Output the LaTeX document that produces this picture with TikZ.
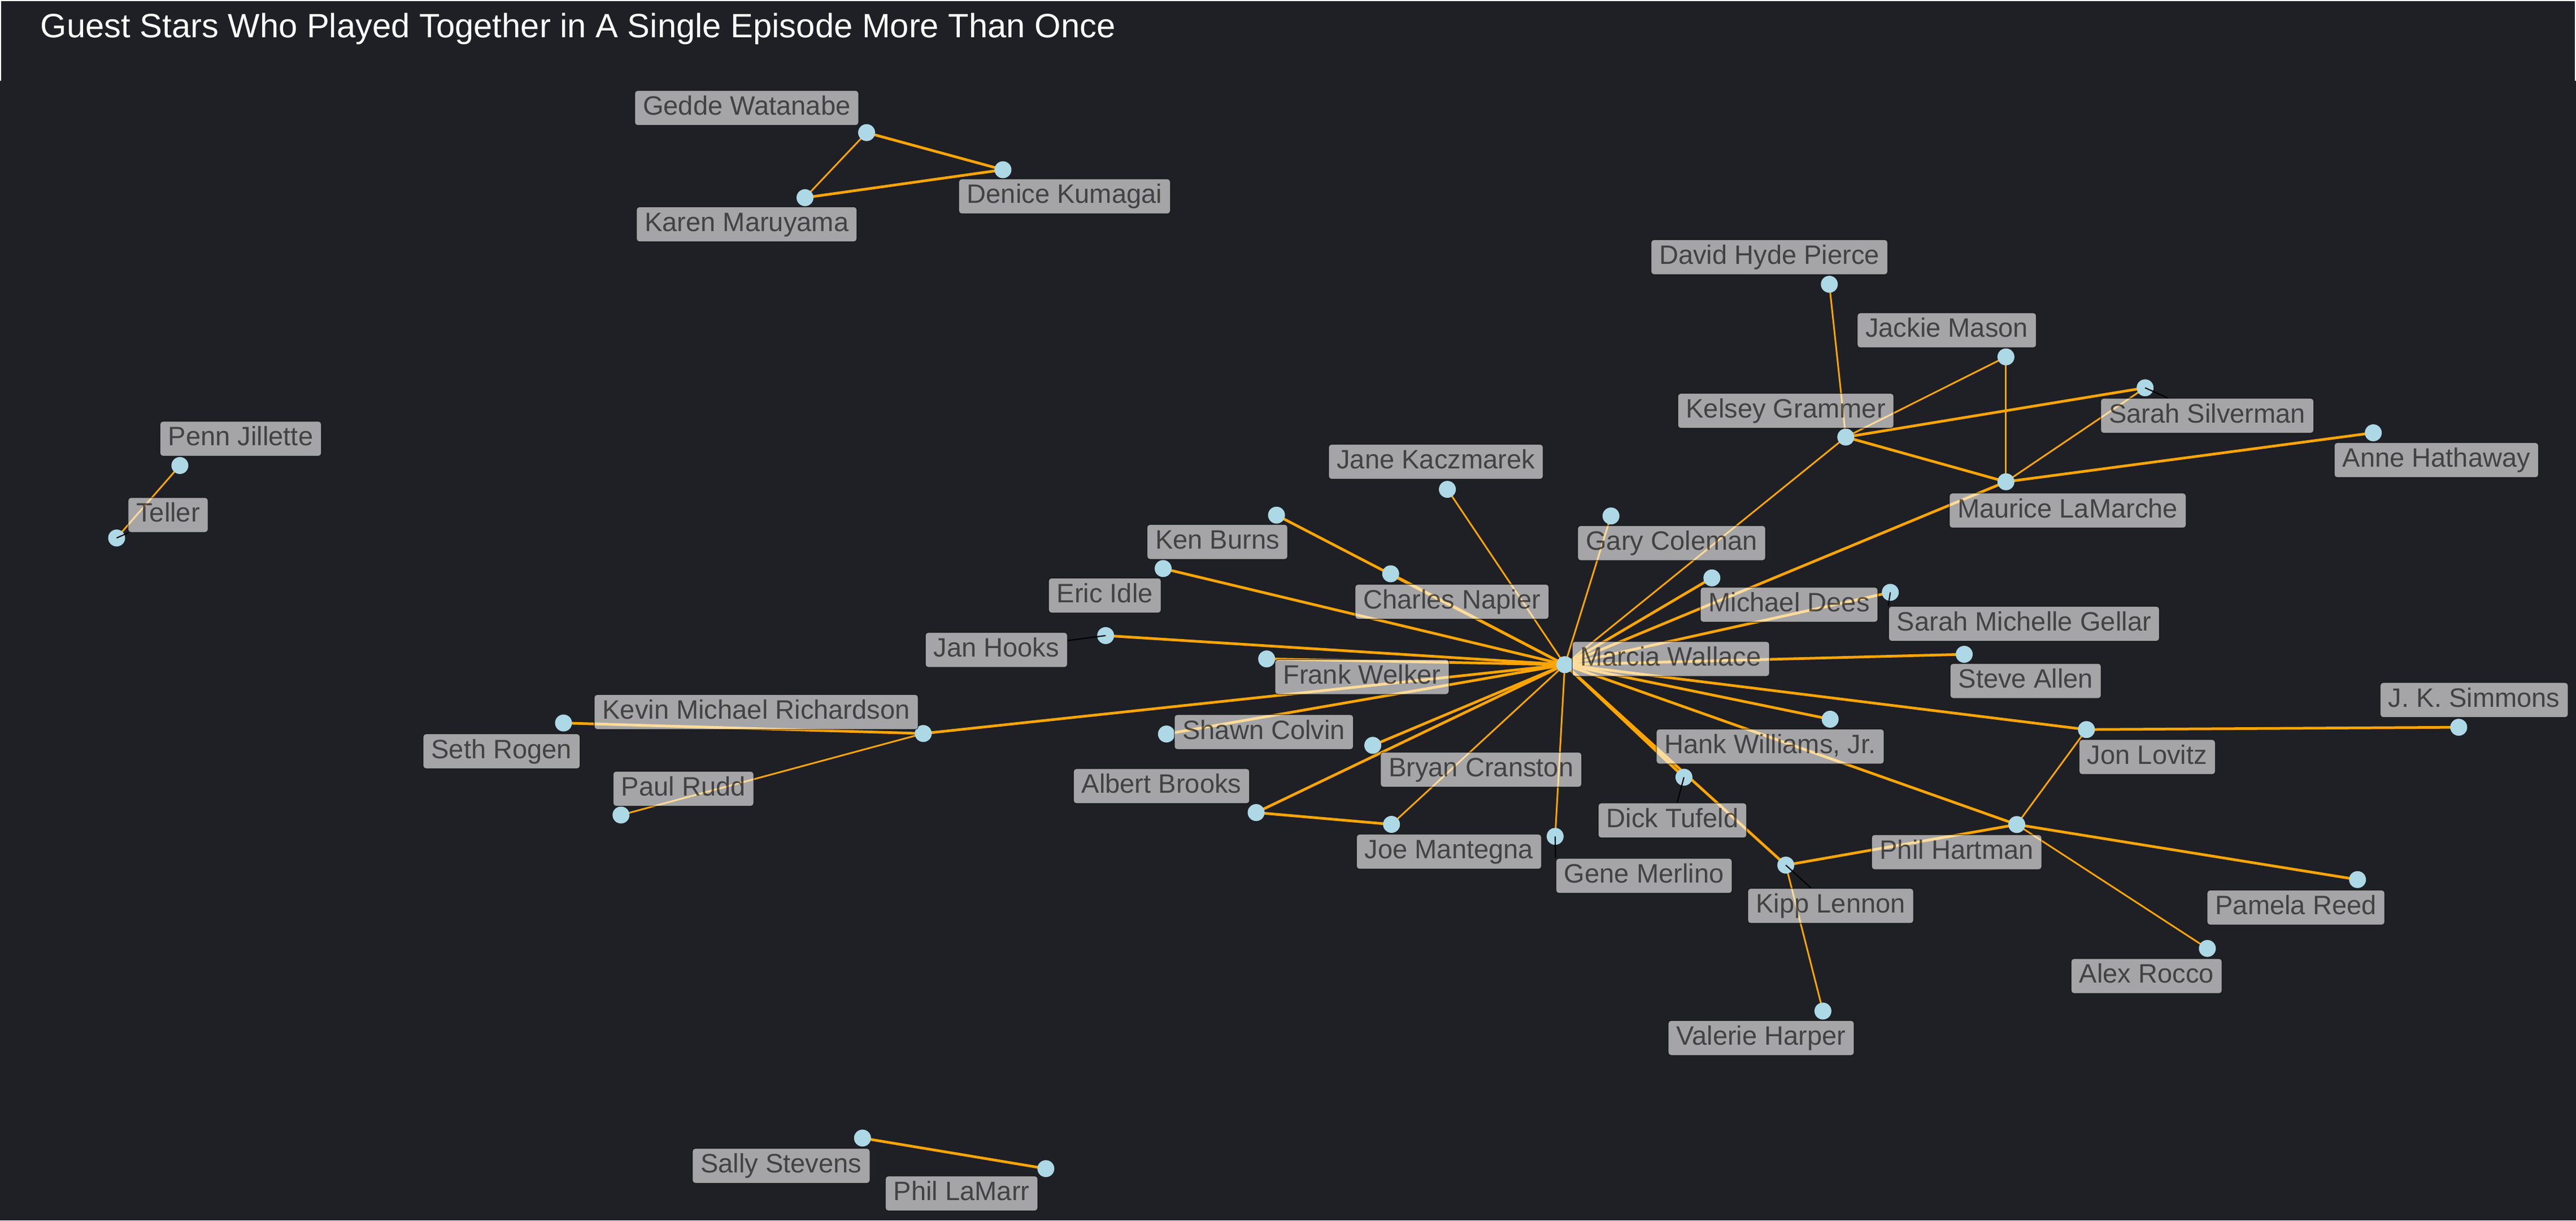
\documentclass[tikz,border=0pt]{standalone}
\usepackage{fontspec}
\setmainfont{Liberation Sans}
\definecolor{panel}{RGB}{30,32,37}
\definecolor{star}{RGB}{173,216,230}
\definecolor{link}{RGB}{255,165,0}
\begin{document}
\begin{tikzpicture}[x=0.0290816cm, y=-0.0290816cm,
    guest/.style={circle, fill=star, inner sep=0pt, minimum size=0.3cm},
    tag/.style={draw=black, fill=white, opacity=0.6, text=black,
      rounded corners=0.05cm, inner xsep=0.145cm, inner ysep=0.08cm,
      text height=0.353cm, text depth=0.104cm,
      font=\fontsize{13.4pt}{16pt}\selectfont},
    cast/.style={draw=link, line width=1.35pt},
    cameo/.style={draw=link, line width=0.85pt},
    lead/.style={draw=black, line width=0.6pt}]
\fill[panel] (0,0) rectangle (1568,742.74);
\useasboundingbox (0,0) rectangle (1568,742.74);
\draw[white, line width=0.02cm] (0.35,49.2) -- (0.35,0.35) -- (1567.65,0.35) -- (1567.65,49.2);
\node[anchor=base west, inner sep=0pt, text=white,
  font=\fontsize{17pt}{20pt}\selectfont] (title) at (24.4,23)
  {Guest Stars Who Played Together in A Single Episode More Than Once};

% where each guest sits
\foreach \n/\x/\y in {gedde/527.5/80.7, denice/610.5/103.3, karen/490/120.3,
    penn/109.5/283.3, teller/71/327.4, david/1113.5/173, jackie/1221/217.2,
    kelsey/1123.5/266, silverman/1305.7/236, anne/1444.6/263.4,
    maurice/1221/293.2, jane/881/297.8, gary/980.6/314, kenb/777/313.5,
    napier/846.5/349.2, eric/708/346, dees/1042/351.7, gellar/1150.6/360.5,
    janh/673/386.8, marcia/952.5/404.5, welker/771/401, steve/1195.6/398.2,
    kevin/562/446.4, seth/343/440, shawn/710/446.7, bryan/835.6/453.6,
    hank/1114/437.7, simmons/1496.6/442.6, lovitz/1270/444, paul/378/496,
    albert/764.6/494.5, tufeld/1025/473, joe/847/501.7, gene/946.6/509,
    hartman/1227.6/501.8, kipp/1087/526.5, pamela/1435/535.3,
    rocco/1343.6/577.2, valerie/1109.6/615.3, sally/525/692.6,
    lamarr/636.6/711.2}
  \coordinate (\n) at (\x,\y);

% shared episodes
\foreach \a/\b in {gedde/denice, karen/denice, sally/lamarr, kevin/seth,
    marcia/eric, marcia/janh, marcia/welker, marcia/kevin, marcia/shawn,
    marcia/bryan, marcia/albert, albert/joe, marcia/dees, marcia/maurice,
    marcia/gellar, marcia/steve, marcia/hank, marcia/lovitz, marcia/hartman,
    marcia/kipp, marcia/tufeld, kipp/hartman, hartman/pamela, lovitz/simmons,
    kelsey/silverman, kelsey/maurice, maurice/anne, marcia/kenb, marcia/napier}
  \draw[cast] (\a) -- (\b);
\foreach \a/\b in {gedde/karen, penn/teller, kevin/paul, marcia/jane,
    marcia/gary, marcia/joe, marcia/gene, marcia/kelsey, kipp/valerie,
    hartman/lovitz, hartman/rocco, kelsey/david, kelsey/jackie,
    jackie/maurice, maurice/silverman}
  \draw[cameo] (\a) -- (\b);

\foreach \n in {gedde, denice, karen, penn, teller, david, jackie, kelsey,
    silverman, anne, maurice, jane, gary, kenb, napier, eric, dees, gellar,
    janh, marcia, welker, steve, kevin, seth, shawn, bryan, hank, simmons,
    lovitz, paul, albert, tufeld, joe, gene, hartman, kipp, pamela, rocco,
    valerie, sally, lamarr}
  \node[guest] at (\n) {};

% names
\foreach \n/\x/\y/\t in {gedde/454.5/65.7/Gedde Watanabe,
    denice/648/119.5/Denice Kumagai, karen/454.5/136.5/Karen Maruyama,
    penn/146.5/267/Penn Jillette, teller/102.3/313.4/Teller,
    david/1077/156.5/David Hyde Pierce, jackie/1185/201/Jackie Mason,
    kelsey/1087/250/Kelsey Grammer, silverman/1343.5/253/Sarah Silverman,
    anne/1483/280/Anne Hathaway, maurice/1258.6/310.7/Maurice LaMarche,
    jane/874/281/Jane Kaczmarek, gary/1017.5/330.5/Gary Coleman,
    kenb/741/329.8/Ken Burns, napier/883.8/366.2/Charles Napier,
    eric/672.5/362.4/Eric Idle, dees/1089/368/Michael Dees,
    gellar/1232/379.6/Sarah Michelle Gellar, janh/606.5/395.5/Jan Hooks,
    marcia/1017/401/Marcia Wallace, welker/829/412/Frank Welker,
    steve/1233/414.4/Steve Allen, kevin/460.3/433.3/Kevin Michael Richardson,
    seth/305.3/457.2/Seth Rogen, shawn/769.3/445.5/Shawn Colvin,
    bryan/901.5/468.4/Bryan Cranston, hank/1077.5/454.3/{Hank Williams, Jr.},
    simmons/1506/426/J. K. Simmons, lovitz/1307/460.7/Jon Lovitz,
    paul/416/480/Paul Rudd, albert/707/478.4/Albert Brooks,
    tufeld/1018/499.3/Dick Tufeld, joe/882/518.3/Joe Mantegna,
    gene/1000.7/533/Gene Merlino, hartman/1191/518.6/Phil Hartman,
    kipp/1114.3/551.3/Kipp Lennon, pamela/1397.5/552.3/Pamela Reed,
    rocco/1306.6/594/Alex Rocco, valerie/1072/631.7/Valerie Harper,
    sally/475.5/709.5/Sally Stevens, lamarr/585.3/726.3/Phil LaMarr}
  \node[tag] (\n-l) at (\x,\y) {\t};

% pointers from a guest to its name
\foreach \n in {teller, janh, silverman, tufeld, kipp}
  \draw[lead] (\n) -- (\n-l);
\draw[lead] (gellar) -- (gellar-l.north west);
\draw[lead] (gene) -- (gene-l.north west);
\end{tikzpicture}
\end{document}
